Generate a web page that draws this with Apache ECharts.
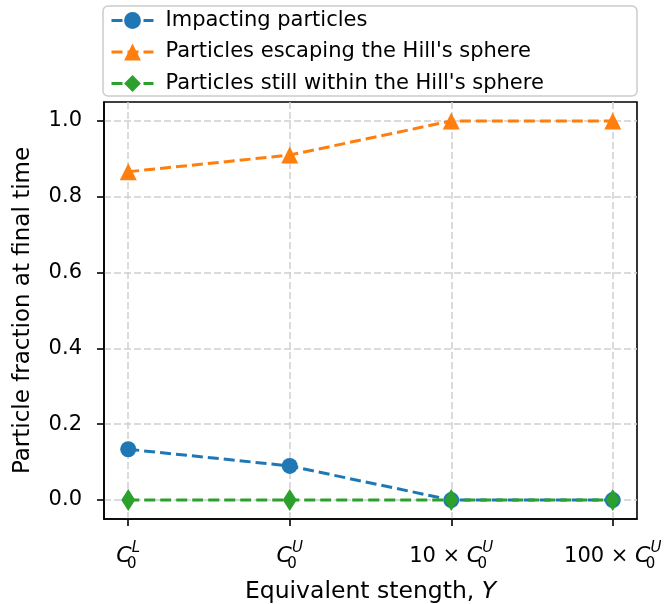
<!DOCTYPE html>
<html>
<head>
<meta charset="utf-8">
<script src="https://cdn.jsdelivr.net/npm/echarts@6/dist/echarts.min.js"></script>
<style>html,body{margin:0;padding:0;background:#fff;}#chart{width:666px;height:604px;}</style>
</head>
<body>
<div id="chart"></div>
<script>
// ---- data ----
const xPositions = [0, 1, 2, 3];
const tickPrefix = ['', '', '10 \u00d7 ', '100 \u00d7 '];
const tickSup = ['L', 'U', 'U', 'U'];
const yTicks = [0, 0.2, 0.4, 0.6, 0.8, 1.0];
const impacting = [0.134, 0.090, 0.0, 0.0];
const escaping = [0.866, 0.910, 1.0, 1.0];
const within = [0.0, 0.0, 0.0, 0.0];
const seriesNames = ['Impacting particles', "Particles escaping the Hill's sphere", "Particles still within the Hill's sphere"];

const FONT = 'DejaVu Sans';
const pairs = arr => arr.map((v, i) => [xPositions[i], v]);

const chart = echarts.init(document.getElementById('chart'), null, {renderer: 'canvas'});
const lineCommon = (color) => ({
  type: 'line',
  lineStyle: {color: color, width: 3, type: [11, 5]},
  itemStyle: {color: color},
  emphasis: {disabled: true},
  animation: false
});

chart.setOption({
  animation: false,
  grid: {left: 104, right: 29, top: 102, bottom: 85, show: true, borderColor: '#000', borderWidth: 1.6,
         containLabel: false, outerBoundsMode: 'none'},
  graphic: [{
    type: 'rect', z: 0,
    shape: {x: 103, y: 6, width: 534, height: 90, r: 5},
    style: {fill: 'rgba(255,255,255,0.8)', stroke: '#cccccc', lineWidth: 1.5}
  }],
  legend: {
    orient: 'vertical', left: 105, top: 5,
    itemWidth: 42, itemHeight: 21, itemGap: 10.5,
    lineStyle: {width: 3},
    textStyle: {fontFamily: FONT, fontSize: 21, color: '#000', padding: [0, 0, 0, 7]},
    data: seriesNames
  },
  xAxis: {
    type: 'value', min: -0.15, max: 3.15,
    name: '{t|Equivalent stength, }{i|Y}', nameLocation: 'middle', nameGap: 61,
    nameTextStyle: {rich: {
      t: {fontFamily: FONT, fontSize: 23.5, color: '#000'},
      i: {fontFamily: FONT, fontSize: 23.5, color: '#000', fontStyle: 'italic'}
    }},
    axisLine: {show: true, onZero: false, lineStyle: {color: '#000', width: 1.6}},
    axisTick: {show: true, length: 7, lineStyle: {color: '#000', width: 1.6}, customValues: xPositions},
    axisLabel: {
      customValues: xPositions, margin: 22,
      formatter: function (v) {
        const i = Math.round(v);
        const pre = tickPrefix[i] ? '{n|' + tickPrefix[i] + '}' : '';
        return pre + '{c|C}{s|0}{p|' + tickSup[i] + '}';
      },
      rich: {
        n: {fontFamily: FONT, fontSize: 21, color: '#000', lineHeight: 31, verticalAlign: 'middle'},
        c: {fontFamily: FONT, fontSize: 22, color: '#000', fontStyle: 'italic', lineHeight: 31, verticalAlign: 'middle'},
        s: {fontFamily: FONT, fontSize: 15, color: '#000', verticalAlign: 'bottom', width: 0.1},
        p: {fontFamily: FONT, fontSize: 15, color: '#000', fontStyle: 'italic', verticalAlign: 'top'}
      }
    },
    splitLine: {show: true, lineStyle: {color: '#d0d0d0', width: 1.5, type: [7, 3]}}
  },
  yAxis: {
    type: 'value', min: -0.05, max: 1.05,
    name: 'Particle fraction at final time', nameLocation: 'middle', nameGap: 69,
    nameTextStyle: {fontFamily: FONT, fontSize: 23, color: '#000'},
    axisLine: {show: true, onZero: false, lineStyle: {color: '#000', width: 1.6}},
    axisTick: {show: true, length: 7, lineStyle: {color: '#000', width: 1.6}, customValues: yTicks},
    axisLabel: {
      customValues: yTicks, margin: 22,
      fontFamily: FONT, fontSize: 21, color: '#000',
      formatter: v => v.toFixed(1)
    },
    splitLine: {show: true, lineStyle: {color: '#d0d0d0', width: 1.5, type: [7, 3]}}
  },
  series: [
    Object.assign(lineCommon('#1f77b4'), {name: seriesNames[0], data: pairs(impacting), symbol: 'circle', symbolSize: 16}),
    Object.assign(lineCommon('#ff7f0e'), {name: seriesNames[1], data: pairs(escaping), symbol: 'triangle', symbolSize: 17}),
    Object.assign(lineCommon('#2ca02c'), {name: seriesNames[2], data: pairs(within), symbol: 'diamond', symbolSize: [14, 22]})
  ]
});
</script>
</body>
</html>
